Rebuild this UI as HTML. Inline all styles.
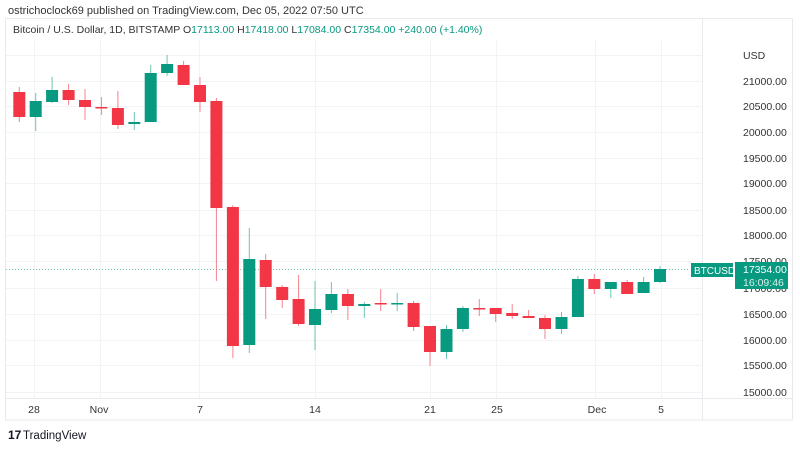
<!DOCTYPE html>
<html><head><meta charset="utf-8"><style>
body{margin:0;background:#fff;width:800px;height:445px;overflow:hidden;font-family:"Liberation Sans",sans-serif;}
.r rect{fill:#f23645}.r line{stroke:#f5838d}
.g rect{fill:#089981}.g line{stroke:#6cc4b2}
</style></head><body>
<svg width="800" height="445" xmlns="http://www.w3.org/2000/svg" font-family="Liberation Sans, sans-serif">
<rect width="800" height="445" fill="#fff"/>
<text x="8" y="14" font-size="11" fill="#333">ostrichoclock69 published on TradingView.com, Dec 05, 2022 07:50 UTC</text>
<rect x="5.5" y="18.5" width="787" height="401.5" fill="none" stroke="#e8eaee"/>
<line x1="702.5" y1="19" x2="702.5" y2="420" stroke="#e8eaee"/>
<line x1="6" y1="398.5" x2="792" y2="398.5" stroke="#e8eaee"/>
<g stroke="#f2f3f5" stroke-width="1">
<line x1="34.5" y1="40" x2="34.5" y2="398"/><line x1="100.5" y1="40" x2="100.5" y2="398"/><line x1="199.5" y1="40" x2="199.5" y2="398"/><line x1="315.5" y1="40" x2="315.5" y2="398"/><line x1="430.5" y1="40" x2="430.5" y2="398"/><line x1="496.5" y1="40" x2="496.5" y2="398"/><line x1="595.5" y1="40" x2="595.5" y2="398"/><line x1="661.5" y1="40" x2="661.5" y2="398"/>
<line x1="6" y1="55.5" x2="702" y2="55.5"/><line x1="6" y1="81.5" x2="702" y2="81.5"/><line x1="6" y1="106.5" x2="702" y2="106.5"/><line x1="6" y1="132.5" x2="702" y2="132.5"/><line x1="6" y1="158.5" x2="702" y2="158.5"/><line x1="6" y1="183.5" x2="702" y2="183.5"/><line x1="6" y1="210.5" x2="702" y2="210.5"/><line x1="6" y1="235.5" x2="702" y2="235.5"/><line x1="6" y1="261.5" x2="702" y2="261.5"/><line x1="6" y1="288.5" x2="702" y2="288.5"/><line x1="6" y1="314.5" x2="702" y2="314.5"/><line x1="6" y1="340.5" x2="702" y2="340.5"/><line x1="6" y1="365.5" x2="702" y2="365.5"/><line x1="6" y1="392.5" x2="702" y2="392.5"/>
</g>
<text x="13" y="33" font-size="10.5" fill="#333">Bitcoin / U.S. Dollar, 1D, BITSTAMP <tspan>O</tspan><tspan fill="#089981">17113.00</tspan> <tspan>H</tspan><tspan fill="#089981">17418.00</tspan> <tspan>L</tspan><tspan fill="#089981">17084.00</tspan> <tspan>C</tspan><tspan fill="#089981">17354.00 +240.00 (+1.40%)</tspan></text>
<g font-size="10.5" fill="#333">
<text x="743" y="59">USD</text>
<text x="743" y="85">21000.00</text><text x="743" y="110">20500.00</text><text x="743" y="136">20000.00</text><text x="743" y="162">19500.00</text><text x="743" y="187">19000.00</text><text x="743" y="214">18500.00</text><text x="743" y="239">18000.00</text><text x="743" y="265">17500.00</text><text x="743" y="292">17000.00</text><text x="743" y="318">16500.00</text><text x="743" y="344">16000.00</text><text x="743" y="369">15500.00</text><text x="743" y="396">15000.00</text>
</g>
<line x1="6" y1="269.5" x2="690" y2="269.5" stroke="#6cc4b2" stroke-dasharray="1,2"/>

<g class="r"><line x1="19.3" x2="19.3" y1="87" y2="122"/><rect x="13.3" y="92" width="12" height="25"/></g>
<g class="g"><line x1="35.7" x2="35.7" y1="93" y2="131"/><rect x="29.7" y="101" width="12" height="16"/></g>
<g class="g"><line x1="52.1" x2="52.1" y1="77" y2="103"/><rect x="46.1" y="90" width="12" height="12"/></g>
<g class="r"><line x1="68.6" x2="68.6" y1="84" y2="105"/><rect x="62.6" y="90" width="12" height="10"/></g>
<g class="r"><line x1="85" x2="85" y1="89" y2="120"/><rect x="79" y="100" width="12" height="7"/></g>
<g class="r"><line x1="101.4" x2="101.4" y1="97" y2="115"/><rect x="95.4" y="107" width="12" height="1.5"/></g>
<g class="r"><line x1="117.9" x2="117.9" y1="91" y2="129"/><rect x="111.9" y="108" width="12" height="17"/></g>
<g class="g"><line x1="134.3" x2="134.3" y1="112" y2="130"/><rect x="128.3" y="122" width="12" height="2"/></g>
<g class="g"><line x1="150.7" x2="150.7" y1="65" y2="122"/><rect x="144.7" y="73" width="12" height="49"/></g>
<g class="g"><line x1="167.1" x2="167.1" y1="55" y2="76"/><rect x="161.1" y="64" width="12" height="9"/></g>
<g class="r"><line x1="183.6" x2="183.6" y1="61" y2="85"/><rect x="177.6" y="65" width="12" height="20"/></g>
<g class="r"><line x1="200" x2="200" y1="77" y2="112"/><rect x="194" y="85" width="12" height="17"/></g>
<g class="r"><line x1="216.4" x2="216.4" y1="98" y2="281"/><rect x="210.4" y="101" width="12" height="107"/></g>
<g class="r"><line x1="232.9" x2="232.9" y1="205" y2="358"/><rect x="226.9" y="207" width="12" height="139"/></g>
<g class="g"><line x1="249.3" x2="249.3" y1="228" y2="353"/><rect x="243.3" y="259" width="12" height="86"/></g>
<g class="r"><line x1="265.7" x2="265.7" y1="254" y2="319"/><rect x="259.7" y="260" width="12" height="27"/></g>
<g class="r"><line x1="282.2" x2="282.2" y1="285" y2="308"/><rect x="276.2" y="287" width="12" height="13"/></g>
<g class="r"><line x1="298.6" x2="298.6" y1="275" y2="326"/><rect x="292.6" y="299" width="12" height="25"/></g>
<g class="g"><line x1="315" x2="315" y1="281" y2="350"/><rect x="309" y="309" width="12" height="16"/></g>
<g class="g"><line x1="331.4" x2="331.4" y1="282" y2="313"/><rect x="325.4" y="294" width="12" height="16"/></g>
<g class="r"><line x1="347.9" x2="347.9" y1="289" y2="320"/><rect x="341.9" y="294" width="12" height="12"/></g>
<g class="g"><line x1="364.3" x2="364.3" y1="302" y2="318"/><rect x="358.3" y="304" width="12" height="2"/></g>
<g class="r"><line x1="380.7" x2="380.7" y1="289" y2="311"/><rect x="374.7" y="303" width="12" height="1.5"/></g>
<g class="g"><line x1="397.2" x2="397.2" y1="293" y2="311"/><rect x="391.2" y="303" width="12" height="1.5"/></g>
<g class="r"><line x1="413.6" x2="413.6" y1="301" y2="331"/><rect x="407.6" y="303" width="12" height="24"/></g>
<g class="r"><line x1="430" x2="430" y1="326" y2="366"/><rect x="424" y="326" width="12" height="26"/></g>
<g class="g"><line x1="446.5" x2="446.5" y1="325" y2="359"/><rect x="440.5" y="329" width="12" height="23"/></g>
<g class="g"><line x1="462.9" x2="462.9" y1="306" y2="332"/><rect x="456.9" y="308" width="12" height="21"/></g>
<g class="r"><line x1="479.3" x2="479.3" y1="299" y2="316"/><rect x="473.3" y="308" width="12" height="1.5"/></g>
<g class="r"><line x1="495.7" x2="495.7" y1="308" y2="322"/><rect x="489.7" y="308" width="12" height="6"/></g>
<g class="r"><line x1="512.2" x2="512.2" y1="304" y2="319"/><rect x="506.2" y="313" width="12" height="3"/></g>
<g class="r"><line x1="528.6" x2="528.6" y1="310" y2="318"/><rect x="522.6" y="316" width="12" height="2"/></g>
<g class="r"><line x1="545" x2="545" y1="315" y2="339"/><rect x="539" y="318" width="12" height="11"/></g>
<g class="g"><line x1="561.5" x2="561.5" y1="312" y2="334"/><rect x="555.5" y="317" width="12" height="12"/></g>
<g class="g"><line x1="577.9" x2="577.9" y1="276" y2="317"/><rect x="571.9" y="279" width="12" height="38"/></g>
<g class="r"><line x1="594.3" x2="594.3" y1="274" y2="294"/><rect x="588.3" y="279" width="12" height="10"/></g>
<g class="g"><line x1="610.8" x2="610.8" y1="282" y2="298"/><rect x="604.8" y="282" width="12" height="7"/></g>
<g class="r"><line x1="627.2" x2="627.2" y1="280" y2="294"/><rect x="621.2" y="282" width="12" height="12"/></g>
<g class="g"><line x1="643.6" x2="643.6" y1="277" y2="293"/><rect x="637.6" y="282" width="12" height="11"/></g>
<g class="g"><line x1="660" x2="660" y1="266" y2="283"/><rect x="654" y="269" width="12" height="13"/></g>

<rect x="691" y="263" width="42" height="14" fill="#089981"/>
<text x="694" y="274" font-size="10" fill="#fff">BTCUSD</text>
<rect x="735" y="262" width="53" height="27" fill="#089981"/>
<text x="743" y="273" font-size="10.5" fill="#fff">17354.00</text>
<text x="743" y="286" font-size="10.5" fill="#d8f0ea">16:09:46</text>
<g font-size="10.5" fill="#333" text-anchor="middle">
<text x="34" y="413">28</text><text x="99" y="413">Nov</text><text x="200" y="413">7</text><text x="315" y="413">14</text><text x="430" y="413">21</text><text x="497" y="413">25</text><text x="597" y="413">Dec</text><text x="661" y="413">5</text>
</g>
<text x="8" y="439" font-size="12" font-weight="bold" fill="#131722">17</text>
<text x="23" y="439" font-size="11.5" fill="#131722">TradingView</text>
</svg>
</body></html>
